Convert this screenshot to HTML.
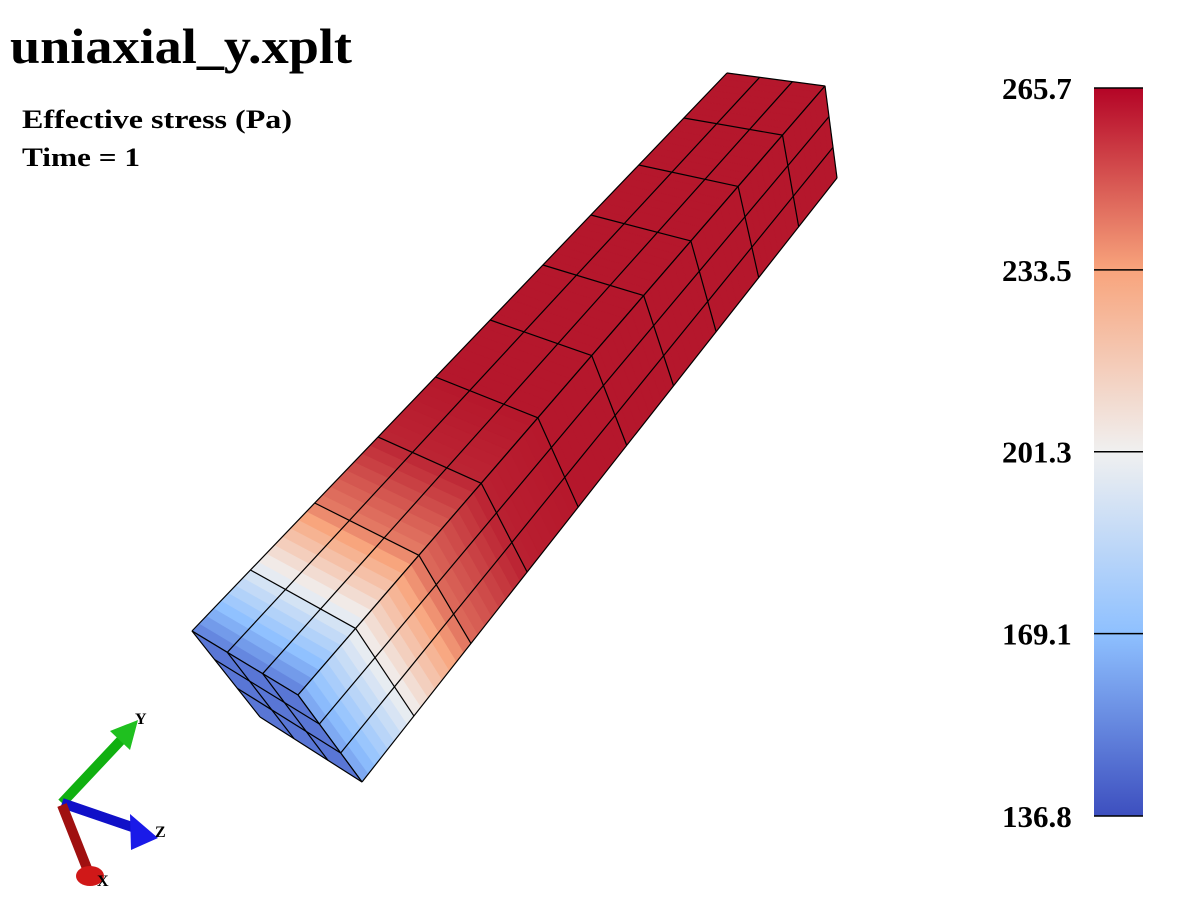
<!DOCTYPE html>
<html><head><meta charset="utf-8"><style>
html,body{margin:0;padding:0;background:#fff;width:1200px;height:900px;overflow:hidden}
svg{display:block}
text{font-family:"Liberation Serif",serif;font-weight:bold;fill:#000}
</style></head><body>
<svg id="s" width="1200" height="900" viewBox="0 0 1200 900">
<defs>
<linearGradient id="cb" x1="0" y1="1" x2="0" y2="0">
<stop offset="0" stop-color="#3d4fbf"/><stop offset="0.25" stop-color="#8ec0ff"/><stop offset="0.5" stop-color="#f0f0f0"/><stop offset="0.75" stop-color="#f8a47c"/><stop offset="1" stop-color="#b40426"/>
</linearGradient>
</defs>
<text x="10" y="63" font-size="50" textLength="342" lengthAdjust="spacingAndGlyphs">uniaxial_y.xplt</text>
<text x="22" y="128" font-size="26" textLength="270" lengthAdjust="spacingAndGlyphs">Effective stress (Pa)</text>
<text x="22" y="166" font-size="26" textLength="118" lengthAdjust="spacingAndGlyphs">Time = 1</text>
<g id="beam"></g>
<g id="cbar">
<rect x="1094" y="88" width="49" height="728" fill="url(#cb)"/>
</g>
<g>
<line x1="62" y1="803" x2="124" y2="737" stroke="#10b010" stroke-width="10"/>
<polygon points="110,731 138,720 130,750" fill="#1fc01f"/>
<line x1="62" y1="803" x2="135" y2="828" stroke="#1010c8" stroke-width="10"/>
<polygon points="130,814 158,838 131,850" fill="#1a1ae8"/>
<line x1="62" y1="805" x2="90" y2="876" stroke="#a01010" stroke-width="10"/>
<ellipse cx="90" cy="876" rx="14" ry="10" fill="#d01818"/>
<text x="135" y="724" font-size="16">Y</text>
<text x="155" y="837" font-size="16">Z</text>
<text x="97" y="886" font-size="16">X</text>
</g>
</svg>
<script>
const tickValues=[136.8,169.1,201.3,233.5,265.7];
const tickLabels=["136.8","169.1","201.3","233.5","265.7"];
const stationY=[631,570,503,437,377,320,265,215,165,118,73];
const topStress=[150,195,242,262,265,265,265,265,265,265,265];
const sideStress=[160,201,246,263,265,265,265,265,265,265,265];
const endStress=[148];
const vmin=136.8,vmax=265.7;
const NS="http://www.w3.org/2000/svg";
const stops=[[0,[61,79,191]],[0.25,[142,192,255]],[0.5,[240,240,240]],[0.75,[248,164,124]],[1,[180,20,42]]];
function cmap(v){let f=Math.max(0,Math.min(1,(v-vmin)/(vmax-vmin)));for(let i=1;i<stops.length;i++){if(f<=stops[i][0]){const a=stops[i-1],b=stops[i];const k=(f-a[0])/(b[0]-a[0]);const c=a[1].map((x,j)=>Math.round(x+(b[1][j]-x)*k));return `rgb(${c[0]},${c[1]},${c[2]})`;}}return "rgb(180,20,42)";}
function lerp(a,b,k){return [a[0]+(b[0]-a[0])*k,a[1]+(b[1]-a[1])*k];}
const fr=stationY.map(y=>(stationY[0]-y)/(stationY[0]-stationY[stationY.length-1]));
function facePt(F,u,t){const A=lerp(F.n0,F.n1,u),B=lerp(F.f0,F.f1,u);return lerp(A,B,t);}
const faces=[
 {name:'top-face',n0:[192,631],n1:[298,695],f0:[727,73],f1:[825,86],s:topStress},
 {name:'right-face',n0:[298,695],n1:[362,782],f0:[825,86],f1:[837,178],s:sideStress}
];
const g=document.getElementById('beam');
function poly(pts,fill,stroke,name){const p=document.createElementNS(NS,'polygon');p.setAttribute('points',pts.map(q=>q[0].toFixed(1)+','+q[1].toFixed(1)).join(' '));p.setAttribute('fill',fill);if(stroke){p.setAttribute('stroke',stroke);p.setAttribute('stroke-width','1');}else{p.setAttribute('stroke',fill);p.setAttribute('stroke-width','0.6');}


g.appendChild(p);return p;}
function line(a,b,name){const l=document.createElementNS(NS,'line');l.setAttribute('x1',a[0]);l.setAttribute('y1',a[1]);l.setAttribute('x2',b[0]);l.setAttribute('y2',b[1]);l.setAttribute('stroke','#000');l.setAttribute('stroke-width','1.2');


g.appendChild(l);}
faces.forEach(F=>{
 const sub=8;
 for(let e=0;e<fr.length-1;e++){for(let k=0;k<sub;k++){const t0=fr[e]+(fr[e+1]-fr[e])*k/sub,t1=fr[e]+(fr[e+1]-fr[e])*(k+1)/sub;const v=F.s[e]+(F.s[e+1]-F.s[e])*(k+0.5)/sub;
 poly([facePt(F,0,t0),facePt(F,1,t0),facePt(F,1,t1),facePt(F,0,t1)],cmap(v),null,F.name+'-strip');}}
 for(let u=0;u<=3;u++)line(facePt(F,u/3,0),facePt(F,u/3,1),F.name+'-long-line');
 fr.forEach(t=>line(facePt(F,0,t),facePt(F,1,t),F.name+'-cross-line'));
});
const E={n0:[192,631],n1:[298,695],f0:[260,717],f1:[362,782]};
poly([E.n0,E.n1,E.f1,E.f0],cmap(endStress[0]),null,'end-face');
for(let i=0;i<=3;i++){line(facePt(E,i/3,0),facePt(E,i/3,1),'end-face-line');line(facePt(E,0,i/3),facePt(E,1,i/3),'end-face-line');}
const cb=document.getElementById('cbar');
tickValues.forEach((v,i)=>{const y=816-(v-vmin)/(vmax-vmin)*728;
 const l=document.createElementNS(NS,'line');l.setAttribute('x1',1094);l.setAttribute('x2',1143);l.setAttribute('y1',y);l.setAttribute('y2',y);l.setAttribute('stroke','#000');l.setAttribute('stroke-width','1.5');
 
 
 cb.appendChild(l);
 const t=document.createElementNS(NS,'text');t.setAttribute('x',1002);t.setAttribute('y',y+11);t.setAttribute('font-size','31');t.textContent=tickLabels[i];
 
 
 cb.appendChild(t);});
</script>
</body></html>
